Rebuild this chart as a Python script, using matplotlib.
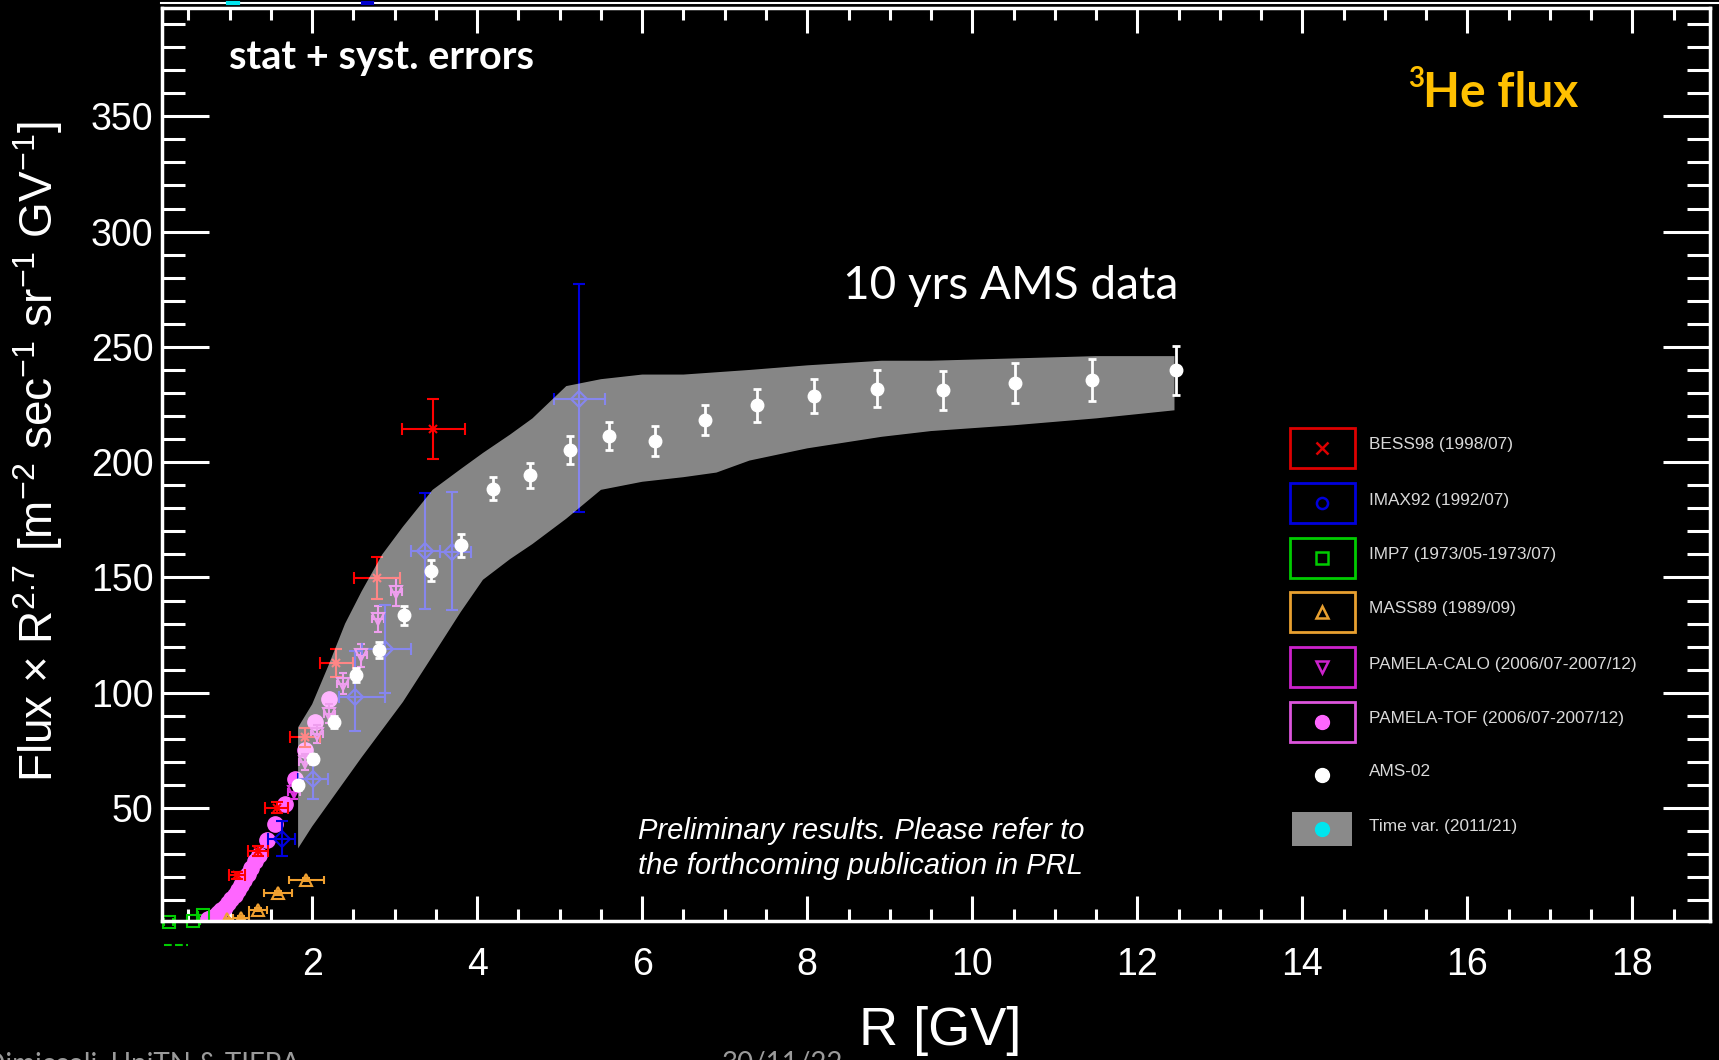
import numpy as np
import matplotlib
matplotlib.use("Agg")
import matplotlib.pyplot as plt
from matplotlib.patches import Rectangle

plt.rcParams['font.family'] = ['Liberation Sans', 'DejaVu Sans']
plt.rcParams['mathtext.fontset'] = 'custom'
plt.rcParams['mathtext.rm'] = 'Liberation Sans'
plt.rcParams['mathtext.default'] = 'regular'

# AMS-02 (10 yrs), flux x R^2.7
ams_R = [1.83, 2.01, 2.27, 2.53, 2.81, 3.11, 3.44, 3.81, 4.19, 4.64, 5.12,
         5.60, 6.15, 6.76, 7.39, 8.08, 8.85, 9.64, 10.52, 11.45, 12.47]
ams_F = [59.9, 71.4, 87.3, 107.6, 118.4, 133.6, 153.0, 163.9, 188.5, 194.3, 205.4,
         211.3, 209.0, 218.1, 224.6, 228.7, 231.8, 231.1, 234.3, 235.7, 239.8]
ams_err = [2, 2, 2.5, 3, 3.5, 4, 4.5, 5, 5, 5.5, 6,
           6, 6.5, 6.5, 7, 7.5, 8, 8.5, 8.5, 9, 10.5]

# time variation band (2011/21)
band_R = [1.83, 2.0, 2.2, 2.4, 2.6, 2.85, 3.1, 3.46, 3.8, 4.07, 4.4, 4.67,
          5.08, 5.5, 6.0, 6.5, 6.9, 7.3, 8.0, 8.9, 9.5, 10.5, 11.5, 12.45]
band_hi = [85, 95, 112, 130, 144, 160, 172, 188, 197, 204, 212, 219,
           233, 236, 238, 238, 239, 240, 242, 244, 244, 245, 246, 246]
band_lo = [32.5, 42, 52, 62, 72, 84, 96, 116, 135, 149, 158, 164.5,
           175.5, 188, 191.5, 193.5, 195.5, 200.7, 206, 211, 213.5, 216, 219, 222.5]

# BESS98
bess_R = [1.09, 1.34, 1.57, 1.91, 2.29, 2.79, 3.47]
bess_F = [20.9, 31.4, 50.2, 80.6, 112.9, 149.7, 214.4]
bess_xerr = [0.1, 0.12, 0.14, 0.18, 0.2, 0.28, 0.38]
bess_yerr = [1.5, 2, 2.5, 4, 6, 9, 13]

# IMAX92
imax_R = [1.63, 2.01, 2.52, 2.88, 3.37, 3.69, 5.24]
imax_F = [36.7, 62.7, 98.2, 119.0, 161.5, 161.0, 227.2]
imax_xlo = [0.16, 0.18, 0.19, 0.28, 0.17, 0.14, 0.31]
imax_xhi = [0.16, 0.18, 0.36, 0.32, 0.18, 0.24, 0.31]
imax_ylo = [7.6, 8.7, 15, 19, 25, 25, 49]
imax_yhi = [7.6, 8.7, 20, 19, 25, 26, 50]

# IMP7
imp7_R = [0.26, 0.56, 0.68]
imp7_F = [0.5, 0.8, 3.5]
imp7_xerr = [0.06, 0.08, 0.06]
imp7_low_R = [0.21, 0.49]
imp7_low_F = [-9.4, -9.4]

# MASS89
mass_R = [0.97, 1.14, 1.34, 1.59, 1.93]
mass_F = [1.7, 2.5, 6.0, 13.2, 19.0]
mass_xerr = [0.07, 0.1, 0.11, 0.17, 0.21]

# PAMELA-CALO
calo_R = [1.78, 1.91, 2.06, 2.21, 2.37, 2.59, 2.80, 3.02]
calo_F = [57, 70, 82, 91, 104, 116.2, 132, 143.7]
calo_yerr = [3, 3.5, 4, 4, 4.5, 5, 5.5, 6]

# PAMELA-TOF
tof_R = [0.74, 0.78, 0.82, 0.86, 0.90, 0.95, 0.98, 1.02, 1.06, 1.10, 1.14,
         1.18, 1.22, 1.26, 1.31, 1.36, 1.45, 1.55, 1.67, 1.79, 1.91, 2.04, 2.21]
tof_F = [2.0, 2.5, 3.4, 4.3, 5.6, 7.1, 8.8, 10.7, 12.5, 14.4, 16.7,
         19.0, 21.5, 24.2, 27.0, 29.8, 36.0, 43.3, 51.6, 62.7, 75.0, 87.3, 97.4]

leg_labels = ['BESS98 (1998/07)', 'IMAX92 (1992/07)', 'IMP7 (1973/05-1973/07)',
              'MASS89 (1989/09)', 'PAMELA-CALO (2006/07-2007/12)',
              'PAMELA-TOF (2006/07-2007/12)', 'AMS-02', 'Time var. (2011/21)']

fig = plt.figure(figsize=(17.19, 10.60), dpi=100, facecolor='black')
ax = fig.add_axes([0.0942, 0.1311, 0.9006, 0.8614])
ax.set_facecolor('black')

ax.errorbar(imp7_R, imp7_F, xerr=imp7_xerr, fmt='s', mfc='none', mec='#00cc00',
            ecolor='#00cc00', ms=8, mew=1.5, elinewidth=1.5, capsize=3, zorder=2, clip_on=False)
ax.plot(imp7_low_R, imp7_low_F, '--', color='#00cc00', lw=1.5, clip_on=False)
ax.errorbar(mass_R, mass_F, xerr=mass_xerr, yerr=0.8, fmt='^', mfc='none', mec='#f0a030',
            ecolor='#f0a030', ms=9, mew=1.5, elinewidth=1.5, capsize=3, zorder=2)
ax.plot(tof_R, tof_F, 'o', color='#ff66ff', ms=11, zorder=2)
ax.errorbar(calo_R, calo_F, xerr=0.07, yerr=calo_yerr, fmt='v', mfc='none', mec='#dd33dd',
            ecolor='#dd33dd', ms=9, mew=1.5, elinewidth=1.5, capsize=3, zorder=3)
ax.errorbar(bess_R, bess_F, xerr=bess_xerr, yerr=bess_yerr, fmt='x', color='#ff0000',
            ms=6, mew=1.5, elinewidth=1.5, capsize=4, zorder=3)
ax.errorbar(imax_R, imax_F, xerr=[imax_xlo, imax_xhi], yerr=[imax_ylo, imax_yhi], fmt='D',
            mfc='none', mec='#0000dd', ecolor='#0000dd', ms=8, mew=1.5,
            elinewidth=1.5, capsize=4, zorder=3)

ax.fill_between(band_R, band_lo, band_hi, facecolor='white', alpha=0.53, lw=0, zorder=4)

ax.errorbar(ams_R, ams_F, yerr=ams_err, fmt='o', color='white', ms=9,
            elinewidth=2, capsize=3, capthick=2, zorder=5)

ax.set_xlim(0.18, 18.94)
ax.set_ylim(1, 397)
ax.set_xticks(np.arange(2, 19, 2))
ax.set_xticks(np.arange(0.5, 19, 0.5), minor=True)
ax.set_yticks(np.arange(50, 351, 50))
ax.set_yticks(np.arange(10, 400, 10), minor=True)
ax.tick_params(which='both', direction='in', top=True, right=True,
               color='white', labelcolor='white', width=2.2)
ax.tick_params(axis='y', which='major', length=34, pad=6, labelsize=27)
ax.tick_params(axis='y', which='minor', length=16.5)
ax.tick_params(axis='x', which='major', length=18, pad=19, labelsize=27)
ax.tick_params(axis='x', which='minor', length=8.5)
for s in ax.spines.values():
    s.set_color('white')
    s.set_linewidth(2.5)

# overlay in pixel coordinates for texts and legend
ov = fig.add_axes([0, 0, 1, 1], zorder=10)
ov.set_xlim(0, 1719)
ov.set_ylim(1060, 0)
ov.axis('off')

ov.plot([161, 1719], [2.7, 2.7], color='white', lw=1.5)
ov.plot([228, 238], [2.7, 2.7], color='#00e5ee', lw=3)
ov.plot([363, 372], [2.7, 2.7], color='#0000cc', lw=3)

ov.text(38, 452, 'Flux × R$^{2.7}$ [m$^{-2}$ sec$^{-1}$ sr$^{-1}$ GV$^{-1}$]',
        rotation=90, ha='center', va='center', color='white', size=33)
ov.text(940, 1045, 'R [GV]', ha='center', va='baseline', color='white', size=39)

ov.text(229, 69, 'stat + syst. errors', family='Lato', weight='bold', size=28.5,
        color='white', va='baseline')
ov.text(1408, 87, '3', family='Lato', weight='bold', size=20, color='#ffc000', va='baseline')
ov.text(1423, 107, 'He flux', family='Lato', weight='bold', size=34.5, color='#ffc000', va='baseline')
ov.text(843, 299, '10 yrs AMS data', family='Lato', size=33, color='white', va='baseline')
ov.text(638, 839, 'Preliminary results. Please refer to', family='Liberation Sans',
        style='italic', size=21, color='white', va='baseline')
ov.text(638, 874, 'the forthcoming publication in PRL', family='Liberation Sans',
        style='italic', size=21, color='white', va='baseline')

ov.text(300, 1051, 'F. Dimiccoli, UniTN & TIFPA', family='Lato', size=20,
        color='#9a9a9a', ha='right', va='top')
ov.text(722, 1051, '30/11/22', family='Lato', size=20, color='#9a9a9a', va='top')

# legend
row_y = [448, 503, 557.5, 612, 667, 721.5, 775, 829]
box_col = ['#dd0000', '#0000dd', '#00cc00', '#e8a030', '#cc22cc', '#dd55dd']
mk = ['x', 'o', 's', '^', 'v', 'o']
mk_fill = [False, False, False, False, False, True]
for i, lab in enumerate(leg_labels):
    y = row_y[i]
    if i < 6:
        ov.add_patch(Rectangle((1290, y - 20), 65, 40, fill=False, ec=box_col[i], lw=2))
        if mk_fill[i]:
            ov.plot(1322, y, mk[i], color='#ff66ff', ms=10)
        else:
            ov.plot(1322, y, mk[i], mfc='none', mec=box_col[i], ms=8, mew=1.8)
    elif i == 6:
        ov.plot(1322, y, 'o', color='white', ms=10)
    else:
        ov.add_patch(Rectangle((1292, y - 17), 60, 34, color='#8a8a8a', lw=0))
        ov.plot(1322, y, 'o', color='#00e5ee', ms=10)
    ov.text(1369, y - 3, lab, family='Liberation Sans', size=12.4, color='#d9d9d9', va='center')

fig.savefig('out.png', dpi=100, facecolor='black')
